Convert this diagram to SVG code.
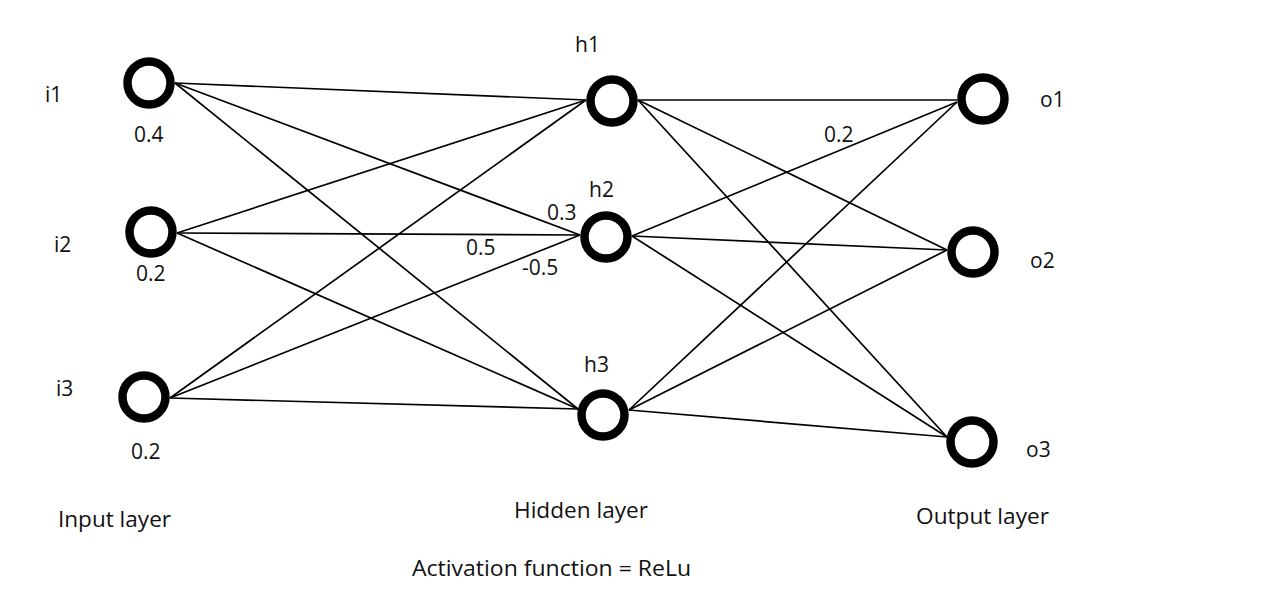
<svg xmlns="http://www.w3.org/2000/svg" width="1284" height="602" viewBox="0 0 1284 602">
<style>
.t{font-family:"Open Sans","Noto Sans","Liberation Sans",sans-serif;font-size:21px;fill:#111}
.n{fill:#fff;stroke:#000;stroke-width:8.5}
.c line{stroke:#000;stroke-width:1.7}
</style>
<rect width="1284" height="602" fill="#fff"/>
<g id="connectors" class="c">
<line x1="175" y1="83" x2="586" y2="100"/>
<line x1="175" y1="83" x2="580" y2="235"/>
<line x1="175" y1="83" x2="578" y2="409"/>
<line x1="177" y1="233" x2="586" y2="100"/>
<line x1="177" y1="233" x2="580" y2="235"/>
<line x1="177" y1="233" x2="578" y2="409"/>
<line x1="170" y1="398" x2="586" y2="100"/>
<line x1="170" y1="398" x2="580" y2="235"/>
<line x1="170" y1="398" x2="578" y2="409"/>
<line x1="638" y1="100" x2="957" y2="100"/>
<line x1="638" y1="100" x2="947" y2="250"/>
<line x1="638" y1="100" x2="947" y2="437"/>
<line x1="632" y1="236" x2="957" y2="102"/>
<line x1="632" y1="236" x2="947" y2="250"/>
<line x1="632" y1="236" x2="947" y2="437"/>
<line x1="629" y1="410" x2="957" y2="102"/>
<line x1="629" y1="410" x2="947" y2="250"/>
<line x1="629" y1="410" x2="947" y2="437"/>
</g>
<g id="i1"><circle class="n" cx="149" cy="83" r="21.5"/><text class="t" x="45" y="102">i1</text><text class="t" x="134" y="142">0.4</text></g>
<g id="i2"><circle class="n" cx="151" cy="232" r="21.5"/><text class="t" x="54" y="252">i2</text><text class="t" x="136" y="281">0.2</text></g>
<g id="i3"><circle class="n" cx="144" cy="397" r="21.5"/><text class="t" x="56" y="396">i3</text><text class="t" x="131" y="459">0.2</text></g>
<g id="h1"><circle class="n" cx="612" cy="101" r="21.5"/><text class="t" x="575" y="52">h1</text></g>
<g id="h2"><circle class="n" cx="606" cy="237" r="21.5"/><text class="t" x="589" y="197">h2</text></g>
<g id="h3"><circle class="n" cx="603" cy="415" r="21.5"/><text class="t" x="584" y="372">h3</text></g>
<g id="o1"><circle class="n" cx="983" cy="99" r="21.5"/><text class="t" x="1040" y="107">o1</text></g>
<g id="o2"><circle class="n" cx="973" cy="252" r="21.5"/><text class="t" x="1030" y="268">o2</text></g>
<g id="o3"><circle class="n" cx="972" cy="442" r="21.5"/><text class="t" x="1026" y="457">o3</text></g>
<g id="weights">
<text class="t" x="547" y="220">0.3</text>
<text class="t" x="466" y="255">0.5</text>
<text class="t" x="522" y="275">-0.5</text>
<text class="t" x="824" y="142">0.2</text>
</g>
<g id="labels">
<text class="t" x="58" y="527" textLength="113" lengthAdjust="spacingAndGlyphs">Input layer</text>
<text class="t" x="514" y="518" textLength="134" lengthAdjust="spacingAndGlyphs">Hidden layer</text>
<text class="t" x="916" y="524" textLength="133" lengthAdjust="spacingAndGlyphs">Output layer</text>
<text class="t" x="412" y="576" textLength="279" lengthAdjust="spacingAndGlyphs">Activation function = ReLu</text>
</g>
</svg>
